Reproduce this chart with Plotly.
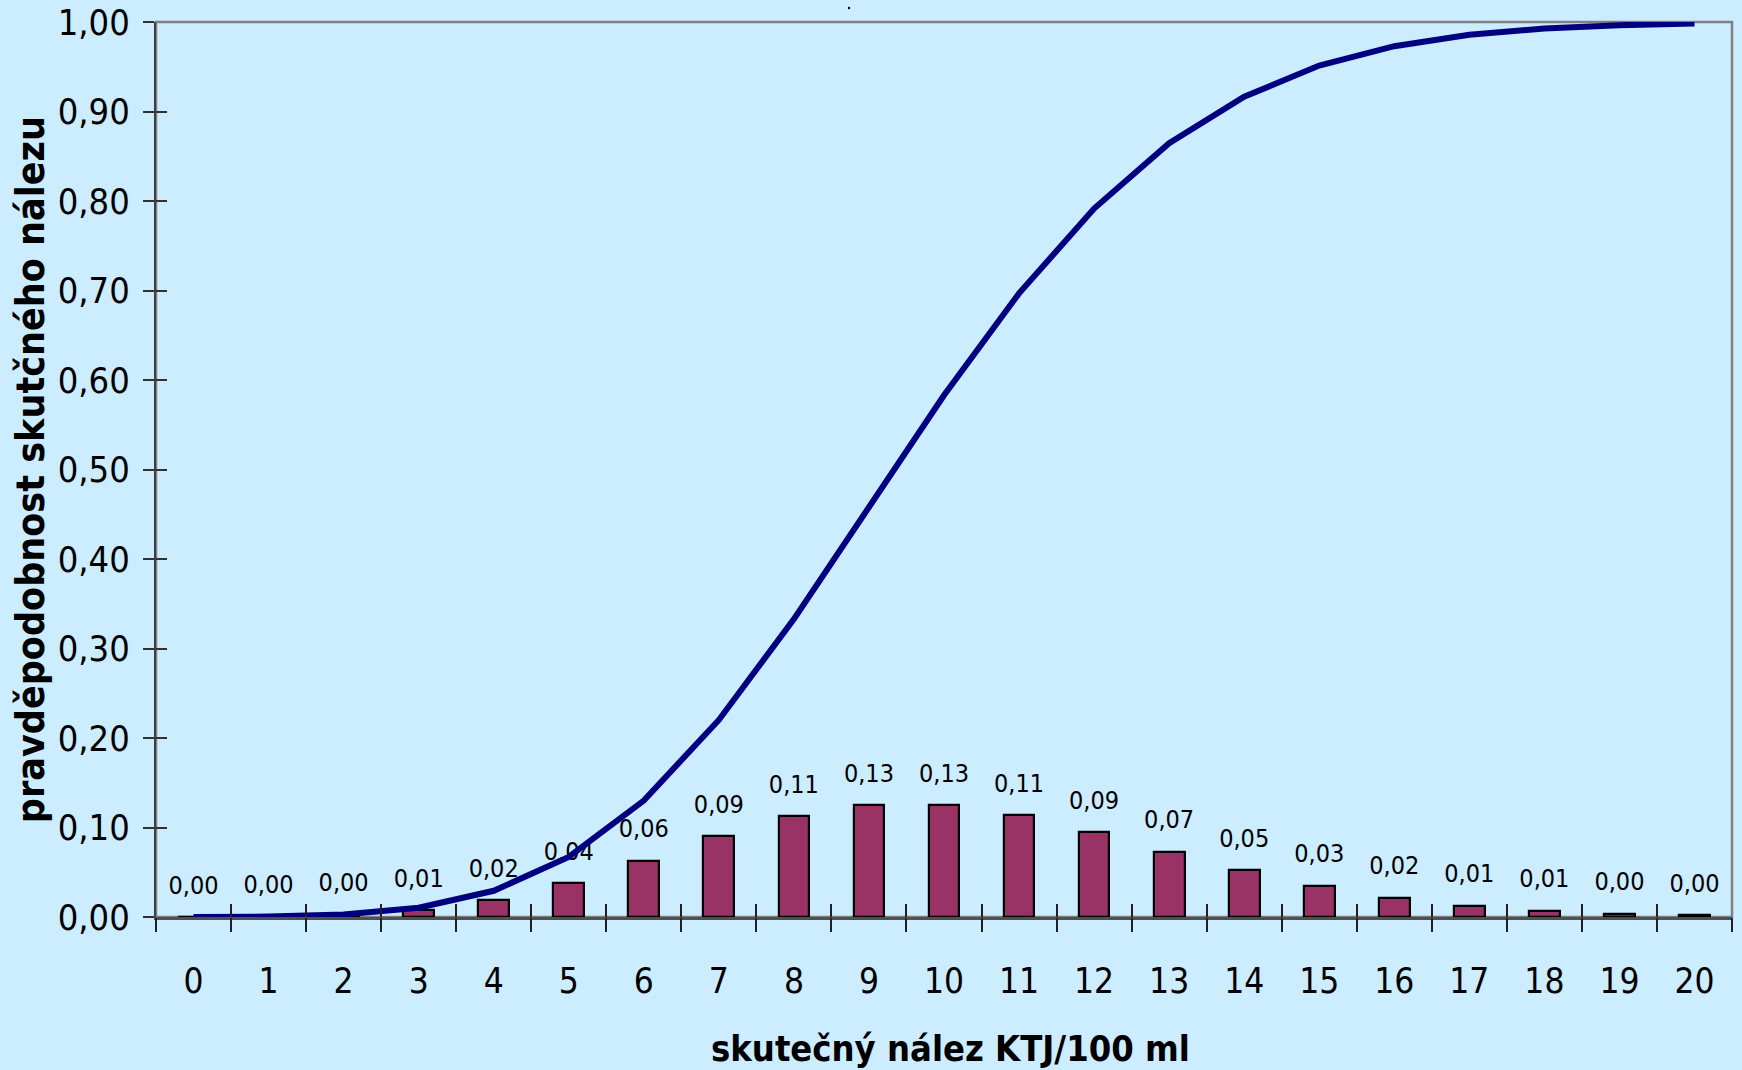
import plotly.graph_objects as go

# Skutečný nález KTJ/100 ml (počet kolonií)
categories = [0, 1, 2, 3, 4, 5, 6, 7, 8, 9, 10, 11, 12, 13, 14, 15, 16, 17, 18, 19, 20]
tick_labels = ["0", "1", "2", "3", "4", "5", "6", "7", "8", "9", "10",
               "11", "12", "13", "14", "15", "16", "17", "18", "19", "20"]

# pravděpodobnost jednotlivého nálezu (sloupce)
probability = [0.0000, 0.0005, 0.0023, 0.0076, 0.0189, 0.0378, 0.0631, 0.0901,
               0.1126, 0.1251, 0.1251, 0.1137, 0.0948, 0.0729, 0.0521, 0.0347,
               0.0217, 0.0128, 0.0071, 0.0037, 0.0019]

# kumulativní pravděpodobnost (křivka)
cumulative = [0.0000, 0.0005, 0.0028, 0.0103, 0.0293, 0.0671, 0.1301, 0.2202,
              0.3328, 0.4579, 0.5830, 0.6968, 0.7916, 0.8645, 0.9165, 0.9513,
              0.9730, 0.9857, 0.9928, 0.9965, 0.9984]

y_ticks = [0.0, 0.1, 0.2, 0.3, 0.4, 0.5, 0.6, 0.7, 0.8, 0.9, 1.0]

BG = "#CCECFF"
FONT = "Tahoma, 'DejaVu Sans Condensed', 'DejaVu Sans', sans-serif"

fig = go.Figure()

fig.add_trace(go.Bar(
    x=categories, y=probability, width=0.41,
    marker=dict(color="#993366", line=dict(color="#000000", width=2.2)),
    showlegend=False, hoverinfo="skip",
))

# value labels above the bars (transparent marker pushes the text up)
fig.add_trace(go.Scatter(
    x=categories, y=probability, mode="markers+text",
    text=[f"{v:.2f}".replace(".", ",") for v in probability],
    textposition="top center",
    textfont=dict(family=FONT, size=25, color="#000000"),
    marker=dict(size=26, opacity=0),
    showlegend=False, hoverinfo="skip",
))

fig.add_trace(go.Scatter(
    x=categories, y=cumulative, mode="lines",
    line=dict(color="#000080", width=6),
    showlegend=False, hoverinfo="skip",
))

boundaries = [c - 0.5 for c in categories] + [categories[-1] + 0.5]
xr = [-0.5, 20.5]

fig.update_layout(
    width=1742, height=1070,
    margin=dict(l=156, r=10, t=22, b=153, autoexpand=False),
    paper_bgcolor=BG, plot_bgcolor=BG,
    separators=", ",
    bargap=0,
    xaxis=dict(
        range=xr, tickvals=categories, ticktext=tick_labels,
        ticks="", showgrid=False, zeroline=False, automargin=False,
        showline=True, linecolor="#505050", linewidth=2.5,
        tickfont=dict(family=FONT, size=35, color="#000000"),
        ticklabelstandoff=31,
    ),
    xaxis2=dict(
        range=xr, overlaying="x", anchor="y", side="bottom",
        tickvals=boundaries, ticks="outside", ticklen=14, tickwidth=1.5,
        tickcolor="#202020", showticklabels=False, showgrid=False,
        zeroline=False, showline=False, automargin=False,
    ),
    xaxis3=dict(
        range=xr, overlaying="x", anchor="y", side="bottom",
        tickvals=boundaries, ticks="inside", ticklen=13, tickwidth=1.5,
        tickcolor="#202020", showticklabels=False, showgrid=False,
        zeroline=False, showline=False, automargin=False,
    ),
    yaxis=dict(
        range=[0, 1], tickvals=y_ticks, tickformat=".2f",
        ticks="outside", ticklen=11, tickwidth=1.5, tickcolor="#303030",
        showgrid=False, zeroline=False, automargin=False,
        showline=True, linecolor="#404040", linewidth=2,
        tickfont=dict(family=FONT, size=36, color="#000000"),
        ticklabelstandoff=6,
    ),
    yaxis2=dict(
        range=[0, 1], overlaying="y", anchor="x", side="left",
        tickvals=y_ticks, ticks="inside", ticklen=11, tickwidth=1.5,
        tickcolor="#303030", showticklabels=False, showgrid=False,
        zeroline=False, showline=False, automargin=False,
    ),
    shapes=[
        dict(type="rect", xref="paper", yref="paper", x0=0, x1=1, y0=0, y1=1,
             line=dict(color="#808080", width=2.5), layer="below"),
        dict(type="circle", xref="paper", yref="paper", xsizemode="pixel",
             ysizemode="pixel", xanchor=0.4397, yanchor=1.0156,
             x0=-1.2, x1=1.2, y0=-1.2, y1=1.2,
             fillcolor="#000000", line=dict(width=0)),
    ],
    annotations=[
        dict(text="<b>skutečný nález KTJ/100 ml</b>", xref="paper", yref="paper",
             x=0.504, y=-0.1464, xanchor="center", yanchor="middle",
             showarrow=False, font=dict(family=FONT, size=36, color="#000000")),
        dict(text="<b>pravděpodobnost skutčného nálezu</b>", xref="paper", yref="paper",
             x=-0.0795, y=0.5, xanchor="center", yanchor="middle", textangle=-90,
             showarrow=False, font=dict(family=FONT, size=39, color="#000000")),
    ],
)

# keep tick overlays bound to the helper axes
fig.add_trace(go.Scatter(x=[None], y=[None], xaxis="x2", yaxis="y2",
                         showlegend=False, hoverinfo="skip"))
fig.add_trace(go.Scatter(x=[None], y=[None], xaxis="x3", yaxis="y",
                         showlegend=False, hoverinfo="skip"))

fig.write_html("out.html")
